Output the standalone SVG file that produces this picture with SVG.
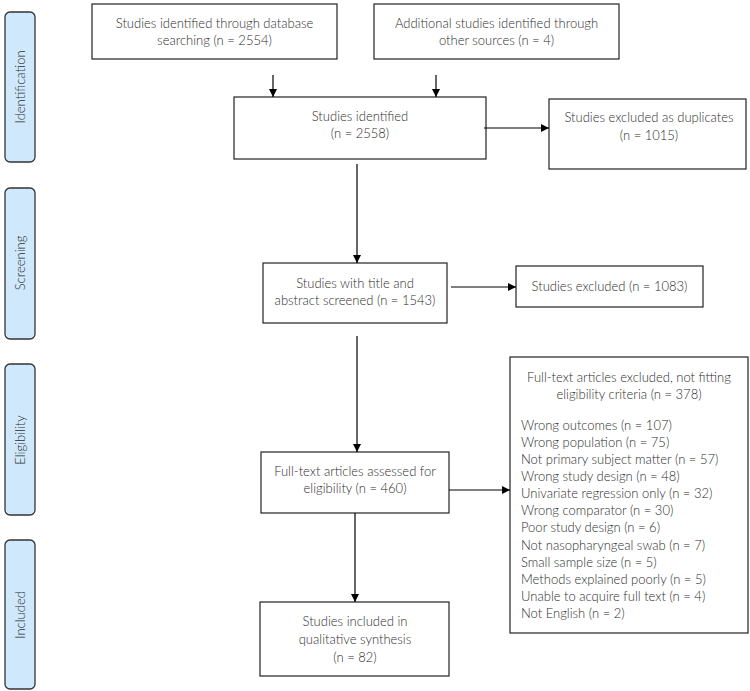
<svg xmlns="http://www.w3.org/2000/svg" width="750" height="691" viewBox="0 0 750 691">
<defs>
<marker id="ah" viewBox="0 0 10 10" refX="10" refY="5" markerWidth="8" markerHeight="8" markerUnits="userSpaceOnUse" orient="auto">
<path d="M0,0 L10,5 L0,10 z" fill="#000"/>
</marker>
<style>
.stage{fill:#cfe8fb;stroke:#333;stroke-width:1.3}
.box{fill:#fff;stroke:#222;stroke-width:1.2}
.t{font-family:Lato,"Liberation Sans",sans-serif;font-size:13px;font-weight:300;fill:#2e2e2e}
.c{text-anchor:middle}
.conn line{stroke:#000;stroke-width:1.2;marker-end:url(#ah)}
</style>
</defs>
<rect width="750" height="691" fill="#fff"/>
<g id="stage-identification"><rect class="stage" x="5" y="12" width="30" height="150" rx="5"/><text class="t c" transform="translate(25,87) rotate(-90)">Identification</text></g>
<g id="stage-screening"><rect class="stage" x="5" y="188" width="30" height="151" rx="5"/><text class="t c" transform="translate(25,263) rotate(-90)">Screening</text></g>
<g id="stage-eligibility"><rect class="stage" x="5" y="364" width="30" height="151" rx="5"/><text class="t c" transform="translate(25,440) rotate(-90)">Eligibility</text></g>
<g id="stage-included"><rect class="stage" x="5" y="540" width="30" height="149" rx="5"/><text class="t c" transform="translate(25,615) rotate(-90)">Included</text></g>

<g id="db"><rect class="box" x="92" y="4" width="245" height="55"/><text class="t c" x="214.5" y="28">Studies identified through database</text><text class="t c" x="214.5" y="45">searching (n = 2554)</text></g>
<g id="other"><rect class="box" x="374" y="4" width="245" height="55"/><text class="t c" x="496.5" y="28">Additional studies identified through</text><text class="t c" x="496.5" y="45">other sources (n = 4)</text></g>
<g id="identified"><rect class="box" x="234" y="97" width="252" height="62"/><text class="t c" x="360" y="121">Studies identified</text><text class="t c" x="360" y="138">(n = 2558)</text></g>
<g id="duplicates"><rect class="box" x="549" y="99" width="197" height="70"/><text class="t c" x="649" y="122">Studies excluded as duplicates</text><text class="t c" x="649" y="140">(n = 1015)</text></g>
<g id="screened"><rect class="box" x="263" y="263" width="184" height="60"/><text class="t c" x="355" y="288">Studies with title and</text><text class="t c" x="355" y="305">abstract screened (n = 1543)</text></g>
<g id="excluded"><rect class="box" x="516" y="266" width="187" height="41"/><text class="t c" x="609.5" y="291">Studies excluded (n = 1083)</text></g>
<g id="fulltext"><rect class="box" x="261" y="452" width="188" height="61"/><text class="t c" x="355" y="476">Full-text articles assessed for</text><text class="t c" x="355" y="493">eligibility (n = 460)</text></g>
<g id="fulltext-excluded"><rect class="box" x="510" y="357" width="238" height="276"/>
<text class="t c" x="629" y="382">Full-text articles excluded, not fitting</text>
<text class="t c" x="629" y="399">eligibility criteria (n = 378)</text>
<text class="t" x="521" y="430">Wrong outcomes (n = 107)</text>
<text class="t" x="521" y="447">Wrong population (n = 75)</text>
<text class="t" x="521" y="464">Not primary subject matter (n = 57)</text>
<text class="t" x="521" y="481">Wrong study design (n = 48)</text>
<text class="t" x="521" y="498">Univariate regression only (n = 32)</text>
<text class="t" x="521" y="515">Wrong comparator (n = 30)</text>
<text class="t" x="521" y="532">Poor study design (n = 6)</text>
<text class="t" x="521" y="550">Not nasopharyngeal swab (n = 7)</text>
<text class="t" x="521" y="567">Small sample size (n = 5)</text>
<text class="t" x="521" y="584">Methods explained poorly (n = 5)</text>
<text class="t" x="521" y="601">Unable to acquire full text (n = 4)</text>
<text class="t" x="521" y="618">Not English (n = 2)</text>
</g>
<g id="included"><rect class="box" x="260" y="602" width="189" height="74"/><text class="t c" x="355" y="626">Studies included in</text><text class="t c" x="355" y="644">qualitative synthesis</text><text class="t c" x="355" y="662">(n = 82)</text></g>

<g id="connectors" class="conn">
<line x1="273" y1="75" x2="273" y2="97"/>
<line x1="436" y1="75" x2="436" y2="97"/>
<line x1="484" y1="128" x2="549" y2="128"/>
<line x1="357" y1="164" x2="357" y2="263"/>
<line x1="451" y1="287" x2="516" y2="287"/>
<line x1="357" y1="336" x2="357" y2="452"/>
<line x1="449" y1="490" x2="510" y2="490"/>
<line x1="355" y1="513" x2="355" y2="602"/>
</g>
</svg>
